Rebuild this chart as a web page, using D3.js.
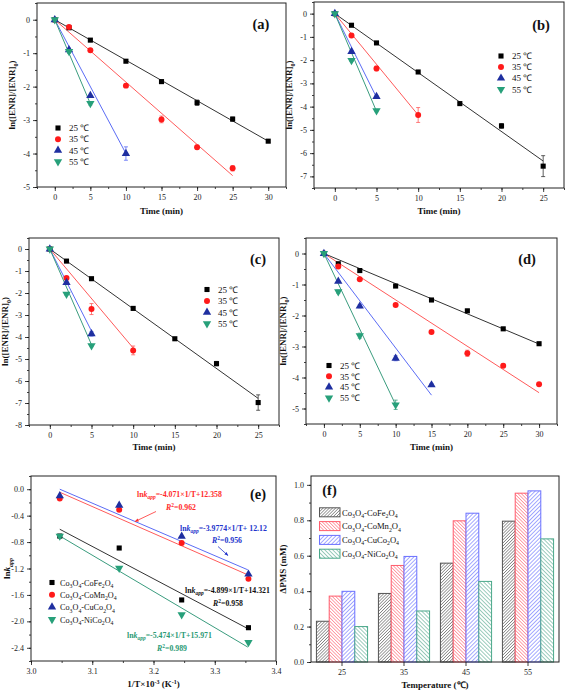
<!DOCTYPE html>
<html><head><meta charset="utf-8">
<script src="https://cdn.jsdelivr.net/npm/d3@7"></script>
<style>
body{margin:0;background:#fff;}
svg{display:block;font-family:"Liberation Serif","Times New Roman",serif;}
</style></head>
<body>
<script>
// ---------- data ----------
const temps = ["25 ℃","35 ℃","45 ℃","55 ℃"];
const markerColors = ["#000000","#ff1a1a","#1f2fa0","#27a07a"];
const lineColors = ["#333333","#ff5a5a","#5b6cf5","#3a9c7e"];

// panel (a)
const timeA = [[0,2,5,10,15,20,25,30],[0,2,5,10,15,20,25],[0,2,5,10],[0,2,5]];
const valA = [[0,-0.24,-0.61,-1.24,-1.85,-2.48,-2.97,-3.63],[0,-0.22,-0.91,-1.97,-2.98,-3.81,-4.44],[0,-0.90,-2.27,-4.00],[0,-0.95,-2.50]];
const errA = [[0,0,0,0.03,0.04,0.08,0.06,0.04],[0,0,0,0.05,0.1,0.06,0.08],[0,0.05,0,0.2],[0,0.05,0.05]];
const fitA = [[30,-3.63],[25,-4.66],[10,-4.00],[5,-2.51]];
// panel (b)
const timeB = [[0,2,5,10,15,20,25],[0,2,5,10],[0,2,5],[0,2,5]];
const valB = [[0,-0.50,-1.26,-2.51,-3.87,-4.83,-6.56],[0,-0.94,-2.36,-4.36],[0,-1.63,-3.57],[0,-2.01,-4.17]];
const errB = [[0,0,0,0,0.05,0.1,0.45],[0,0.05,0.1,0.32],[0,0.05,0.05],[0,0.05,0.05]];
const fitB = [[25,-6.34],[10,-4.36],[5,-3.60],[5,-4.20]];
// panel (c)
const timeC = [[0,2,5,10,15,20,25],[0,2,5,10],[0,2,5],[0,2,5]];
const valC = [[0,-0.55,-1.35,-2.70,-4.08,-5.21,-6.98],[0,-1.32,-2.73,-4.61],[0,-1.53,-3.86],[0,-2.05,-4.39]];
const errC = [[0,0,0,0,0.05,0.1,0.35],[0,0.05,0.25,0.2],[0,0.05,0.1],[0,0.05,0.05]];
const fitC = [[25,-6.79],[10,-4.50],[5,-3.73],[5,-4.35]];
// panel (d)
const timeD = [[0,2,5,10,15,20,25,30],[0,2,5,10,15,20,25,30],[0,2,5,10,15],[0,2,5,10]];
const valD = [[0,-0.33,-0.55,-1.05,-1.50,-1.85,-2.43,-2.91],[0,-0.42,-0.83,-1.66,-2.53,-3.22,-3.62,-4.22],[0,-0.90,-1.70,-3.38,-4.24],[0,-1.23,-2.65,-4.88]];
const errD = [[0,0.03,0.03,0.03,0.03,0.05,0.03,0.03],[0,0.03,0.03,0.03,0.03,0.1,0.05,0.03],[0,0.03,0.05,0.08,0.05],[0,0.05,0.08,0.15]];
const fitD = [[30,-2.92],[30,-4.49],[15,-4.57],[10,-4.88]];

// panel (e)
const catalysts = [["Co","3","O","4","-CoFe","2","O","4"],["Co","3","O","4","-CoMn","2","O","4"],["Co","3","O","4","-CuCo","2","O","4"],["Co","3","O","4","-NiCo","2","O","4"]];
const invT = [3.047,3.144,3.246,3.355];
const lnkFe = [-0.709,-0.89,-1.676,-2.096];
const lnkMn = [-0.142,-0.31,-0.815,-1.357];
const lnkCu = [-0.100,-0.243,-0.714,-1.286];
const lnkNi = [-0.709,-1.195,-1.900,-2.320];
const fitEx = [3.047,3.354];
const fitEy = [[-0.606,-2.110],[-0.046,-1.296],[0.000,-1.220],[-0.708,-2.390]];
const eqText = ["=-4.899×1/T+14.321","=-4.071×1/T+12.358","=-3.9774×1/T+ 12.12","=-5.474×1/T+15.971"];
const r2Text = ["=0.958","=0.962","=0.956","=0.989"];

// panel (f)
const tempCats = ["25","35","45","55"];
const dpmsFe = [0.23,0.387,0.558,0.795];
const dpmsMn = [0.372,0.545,0.797,0.953];
const dpmsCu = [0.399,0.596,0.840,0.966];
const dpmsNi = [0.20,0.288,0.455,0.695];

// ---------- drawing ----------
const W = 567, H = 691;
const svg = d3.select("body").append("svg").attr("width",W).attr("height",H);
const FONT = '"Liberation Serif","Times New Roman",serif';
const hy = s => String(s).replace(/\u2212/g,"-");
const defs = svg.append("defs");

function styleAxis(sel){
  sel.select(".domain").remove();
  sel.selectAll(".tick line").attr("stroke","#111").attr("stroke-width",0.8);
  sel.selectAll(".tick text").attr("font-family",FONT).attr("font-size",8).attr("fill","#222");
}
function axes(g, x, y, o){
  g.append("g").attr("transform",`translate(0,${o.b})`)
    .call(d3.axisBottom(x).tickValues(o.xMajor).tickSize(4).tickPadding(3).tickFormat(o.xFmt||(d=>hy(d)))).call(styleAxis);
  if(o.xMinor) g.append("g").attr("transform",`translate(0,${o.b})`)
    .call(d3.axisBottom(x).tickValues(o.xMinor).tickSize(2).tickFormat("")).call(styleAxis);
  g.append("g").attr("transform",`translate(${o.l},0)`)
    .call(d3.axisLeft(y).tickValues(o.yMajor).tickSize(4).tickPadding(3).tickFormat(o.yFmt||(d=>hy(d)))).call(styleAxis);
  if(o.yMinor) g.append("g").attr("transform",`translate(${o.l},0)`)
    .call(d3.axisLeft(y).tickValues(o.yMinor).tickSize(2).tickFormat("")).call(styleAxis);
  g.append("rect").attr("x",o.l).attr("y",o.t).attr("width",o.r-o.l).attr("height",o.b-o.t)
    .attr("fill","none").attr("stroke","#222").attr("stroke-width",1);
}
const symTypes = [d3.symbolSquare,d3.symbolCircle,d3.symbolTriangle,d3.symbolTriangle];
const symSizes = [26,28,30,30];
function marker(g, cx, cy, i){
  g.append("path").attr("d",d3.symbol().type(symTypes[i]).size(symSizes[i])())
    .attr("transform",`translate(${cx},${cy})${i===3?" rotate(180)":""}`)
    .attr("fill",markerColors[i]);
}
function range(a,b,s){const r=[];for(let v=a;v<=b+1e-9;v+=s)r.push(+v.toFixed(4));return r;}

function yTitleENR(g,x,y){
  const t=g.append("text").attr("transform",`translate(${x},${y}) rotate(-90)`).attr("text-anchor","middle")
    .attr("font-family",FONT).attr("font-weight","bold").attr("font-size",9).attr("fill","#111");
  t.append("tspan").text("ln([ENR]/[ENR]");
  t.append("tspan").attr("font-size",6).attr("dy",2.5).text("0");
  t.append("tspan").attr("dy",-2.5).text(")");
}
function xTitle(g,x,y,txt){
  g.append("text").attr("x",x).attr("y",y).attr("text-anchor","middle").attr("font-family",FONT)
    .attr("font-weight","bold").attr("font-size",9).attr("fill","#111").text(txt);
}
function tag(g,x,y,txt){
  g.append("text").attr("x",x).attr("y",y).attr("text-anchor","middle").attr("font-family",FONT)
    .attr("font-weight","bold").attr("font-size",14.5).attr("fill","#111").text(txt);
}
function chem(t, parts){
  parts.forEach((p,k)=>{
    if(k%2===1) t.append("tspan").attr("font-size",5.8).attr("dy",2.3).text(p);
    else t.append("tspan").attr("dy",k===0?0:-2.3).text(p);
  });
}

function kinetic(o){
  const g = svg.append("g");
  const x = d3.scaleLinear().domain(o.xd).range([o.l,o.r]);
  const y = d3.scaleLinear().domain(o.yd).range([o.b,o.t]);
  axes(g,x,y,o);
  const line = d3.line().x(d=>x(d[0])).y(d=>y(d[1]));
  for(let i=0;i<4;i++){
    g.append("path").attr("d",line([[0,0],o.fit[i]])).attr("stroke",lineColors[i]).attr("stroke-width",1).attr("fill","none");
  }
  for(let i=0;i<4;i++){
    o.time[i].forEach((t,k)=>{
      const e=o.err[i][k];
      if(e>0.02){
        const cx=x(t);
        g.append("path").attr("d",`M${cx},${y(o.val[i][k]-e)}V${y(o.val[i][k]+e)}M${cx-2},${y(o.val[i][k]-e)}h4M${cx-2},${y(o.val[i][k]+e)}h4`)
          .attr("stroke",lineColors[i]).attr("stroke-width",0.8).attr("fill","none");
      }
      marker(g,x(t),y(o.val[i][k]),i);
    });
  }
  temps.forEach((s,i)=>{
    const ly=o.leg[1]+i*o.leg[2];
    marker(g,o.leg[0],ly,i);
    g.append("text").attr("x",o.leg[0]+11).attr("y",ly+3.2).attr("font-family",FONT).attr("font-size",9).attr("fill","#111").text(s);
  });
  tag(g,o.tag[0],o.tag[1],o.tag[2]);
  yTitleENR(g,o.ytx,(o.t+o.b)/2);
  xTitle(g,(o.l+o.r)/2,o.xty,"Time (min)");
}

kinetic({l:37,r:286,t:3,b:187,xd:[-2.5,32.5],yd:[-5,0.5],
  xMajor:[0,5,10,15,20,25,30],xMinor:range(-2.5,32.5,2.5),yMajor:[-5,-4,-3,-2,-1,0],yMinor:range(-5,0.5,0.5),
  time:timeA,val:valA,err:errA,fit:fitA,leg:[58,128,11.2],tag:[261,29,"(a)"],ytx:15,xty:214});
kinetic({l:314,r:564,t:2,b:188,xd:[-2.5,27.5],yd:[-7.5,0.5],
  xMajor:[0,5,10,15,20,25],xMinor:range(-2.5,27.5,2.5),yMajor:[-7,-6,-5,-4,-3,-2,-1,0],yMinor:range(-7.5,0.5,0.5),
  time:timeB,val:valB,err:errB,fit:fitB,leg:[501,56,11.1],tag:[541,30,"(b)"],ytx:292,xty:214});
kinetic({l:29,r:279,t:238,b:425,xd:[-2.5,27.5],yd:[-8,0.5],
  xMajor:[0,5,10,15,20,25],xMinor:range(-2.5,27.5,2.5),yMajor:[-8,-7,-6,-5,-4,-3,-2,-1,0],yMinor:range(-8,0.5,0.5),
  time:timeC,val:valC,err:errC,fit:fitC,leg:[207,289.5,11.4],tag:[258,264,"(c)"],ytx:8,xty:450});
kinetic({l:306,r:557,t:238,b:424,xd:[-2.5,32.5],yd:[-5.5,0.5],
  xMajor:[0,5,10,15,20,25,30],xMinor:range(-2.5,32.5,2.5),yMajor:[-5,-4,-3,-2,-1,0],yMinor:range(-5.5,0.5,0.5),
  time:timeD,val:valD,err:errD,fit:fitD,leg:[329,365.5,10.8],tag:[527,264,"(d)"],ytx:286,xty:450});

// ---- panel (e)
(function(){
  const o={l:31,r:276,t:476,b:661,xMajor:[3.0,3.1,3.2,3.3,3.4],xMinor:range(3.0,3.4,0.05),
    yMajor:[-2.4,-2.0,-1.6,-1.2,-0.8,-0.4,0.0],yMinor:range(-2.6,0.2,0.2),
    xFmt:d3.format(".1f"),yFmt:d=>hy(d3.format(".1f")(d))};
  const g=svg.append("g");
  const x=d3.scaleLinear().domain([3.0,3.4]).range([o.l,o.r]);
  const y=d3.scaleLinear().domain([-2.6,0.2]).range([o.b,o.t]);
  axes(g,x,y,o);
  const series=[lnkFe,lnkMn,lnkCu,lnkNi];
  const line=d3.line().x(d=>x(d[0])).y(d=>y(d[1]));
  fitEy.forEach((f,i)=>{
    g.append("path").attr("d",line([[fitEx[0],f[0]],[fitEx[1],f[1]]])).attr("stroke",lineColors[i]).attr("stroke-width",1).attr("fill","none");
  });
  series.forEach((s,i)=>s.forEach((v,k)=>marker(g,x(invT[k]),y(v),i)));
  // legend
  catalysts.forEach((parts,i)=>{
    const ly=582.5+i*12.3;
    marker(g,52,ly,i);
    const t=g.append("text").attr("x",60).attr("y",ly+3.2).attr("font-family",FONT).attr("font-size",8.2).attr("fill","#111");
    chem(t,parts);
  });
  // annotations
  const annColors=["#111111","#ff2a2a","#2233cc","#2a9a74"];
  const eqPos=[[185,592.5,213,605.5],[137,497,166,510],[180,530.5,212,543],[127,638,157,650.5]];
  eqPos.forEach((p,i)=>{
    const c=annColors[i];
    const t=g.append("text").attr("x",p[0]).attr("y",p[1]).attr("font-family",FONT).attr("font-weight","bold").attr("font-size",7.8).attr("fill",c);
    t.append("tspan").text("ln");
    t.append("tspan").attr("font-style","italic").text("k");
    t.append("tspan").attr("font-style","italic").attr("font-size",5.5).attr("dy",2.3).text("app");
    t.append("tspan").attr("dy",-2.3).text(eqText[i]);
    const r=g.append("text").attr("x",p[2]).attr("y",p[3]).attr("font-family",FONT).attr("font-weight","bold").attr("font-size",7.8).attr("fill",c);
    r.append("tspan").attr("font-style","italic").text("R");
    r.append("tspan").attr("font-size",5.5).attr("dy",-3).text("2");
    r.append("tspan").attr("dy",3).text(r2Text[i]);
  });
  // arrows
  [["arR","#ff3030"],["arB","#2233cc"]].forEach(a=>{
    defs.append("marker").attr("id",a[0]).attr("viewBox","0 0 10 10").attr("refX",9).attr("refY",5)
      .attr("markerWidth",5).attr("markerHeight",5).attr("orient","auto")
      .append("path").attr("d","M0,1L10,5L0,9z").attr("fill",a[1]);
  });
  g.append("line").attr("x1",156).attr("y1",511.5).attr("x2",135).attr("y2",521.5).attr("stroke","#ff3030").attr("stroke-width",0.8).attr("marker-end","url(#arR)");
  g.append("line").attr("x1",218).attr("y1",546.5).attr("x2",228).attr("y2",555.5).attr("stroke","#2233cc").attr("stroke-width",0.8).attr("marker-end","url(#arB)");
  tag(g,258,499,"(e)");
  // titles
  const yt=g.append("text").attr("transform",`translate(10,${(o.t+o.b)/2}) rotate(-90)`).attr("text-anchor","middle")
    .attr("font-family",FONT).attr("font-weight","bold").attr("font-size",9).attr("fill","#111");
  yt.append("tspan").text("ln");
  yt.append("tspan").attr("font-style","italic").text("k");
  yt.append("tspan").attr("font-style","italic").attr("font-size",6).attr("dy",2.5).text("app");
  const xt=g.append("text").attr("x",(o.l+o.r)/2).attr("y",687).attr("text-anchor","middle")
    .attr("font-family",FONT).attr("font-weight","bold").attr("font-size",9).attr("fill","#111");
  xt.append("tspan").text("1/T×10");
  xt.append("tspan").attr("font-size",6).attr("dy",-3.5).text("-3");
  xt.append("tspan").attr("dy",3.5).text(" (K");
  xt.append("tspan").attr("font-size",6).attr("dy",-3.5).text("-1");
  xt.append("tspan").attr("dy",3.5).text(")");
})();

// ---- panel (f)
(function(){
  const o={l:311,r:559,t:476,b:662,yMajor:[0,0.2,0.4,0.6,0.8,1.0],yMinor:range(0,1.0,0.1),yFmt:d3.format(".1f")};
  const g=svg.append("g");
  const x0=d3.scaleBand().domain(tempCats).range([o.l,o.r]).paddingInner(0.175).paddingOuter(0.0875);
  const x1=d3.scaleBand().domain([0,1,2,3]).range([0,x0.bandwidth()]);
  const y=d3.scaleLinear().domain([0,1.05]).range([o.b,o.t]);
  const pats=[["pFe","#444444",45,2.2],["pMn","#ff4a5a",-45,2.4],["pCu","#4a55ff",45,2.8],["pNi","#3a9a7c",-45,2.8]];
  pats.forEach(p=>{
    const pt=defs.append("pattern").attr("id",p[0]).attr("patternUnits","userSpaceOnUse").attr("width",p[3]).attr("height",p[3])
      .attr("patternTransform",`rotate(${p[2]})`);
    pt.append("rect").attr("width",p[3]).attr("height",p[3]).attr("fill","#fff");
    pt.append("line").attr("x1",0).attr("y1",0).attr("x2",0).attr("y2",p[3]).attr("stroke",p[1]).attr("stroke-width",1);
  });
  const outlines=["#555555","#ff5c6c","#6a70ff","#4aa88a"];
  const series=[dpmsFe,dpmsMn,dpmsCu,dpmsNi];
  series.forEach((s,i)=>{
    g.selectAll(null).data(s).enter().append("rect")
      .attr("x",(d,k)=>x0(tempCats[k])+x1(i)).attr("y",d=>y(d))
      .attr("width",x1.bandwidth()).attr("height",d=>y(0)-y(d))
      .attr("fill",`url(#${pats[i][0]})`).attr("stroke",outlines[i]).attr("stroke-width",1);
  });
  g.append("g").attr("transform",`translate(0,${o.b})`).call(d3.axisBottom(x0).tickSize(4).tickPadding(3)).call(styleAxis);
  g.append("g").attr("transform",`translate(${o.l},0)`)
    .call(d3.axisLeft(y).tickValues(o.yMajor).tickSize(4).tickPadding(3).tickFormat(o.yFmt)).call(styleAxis);
  g.append("g").attr("transform",`translate(${o.l},0)`)
    .call(d3.axisLeft(y).tickValues(o.yMinor).tickSize(2).tickFormat("")).call(styleAxis);
  g.append("rect").attr("x",o.l).attr("y",o.t).attr("width",o.r-o.l).attr("height",o.b-o.t)
    .attr("fill","none").attr("stroke","#222").attr("stroke-width",1);
  // legend
  catalysts.forEach((parts,i)=>{
    const ly=512.3+i*13.8;
    g.append("rect").attr("x",319.5).attr("y",ly-4.5).attr("width",20.5).attr("height",9)
      .attr("fill",`url(#${pats[i][0]})`).attr("stroke",outlines[i]).attr("stroke-width",1);
    const t=g.append("text").attr("x",342).attr("y",ly+3.2).attr("font-family",FONT).attr("font-size",8.6).attr("fill","#111");
    chem(t,parts);
  });
  tag(g,329.5,495,"(f)");
  g.append("text").attr("transform",`translate(286,${(o.t+o.b)/2}) rotate(-90)`).attr("text-anchor","middle")
    .attr("font-family",FONT).attr("font-weight","bold").attr("font-size",9).attr("fill","#111").text("ΔPMS (mM)");
  xTitle(g,(o.l+o.r)/2,688,"Temperature (℃)");
})();
</script>
</body></html>
